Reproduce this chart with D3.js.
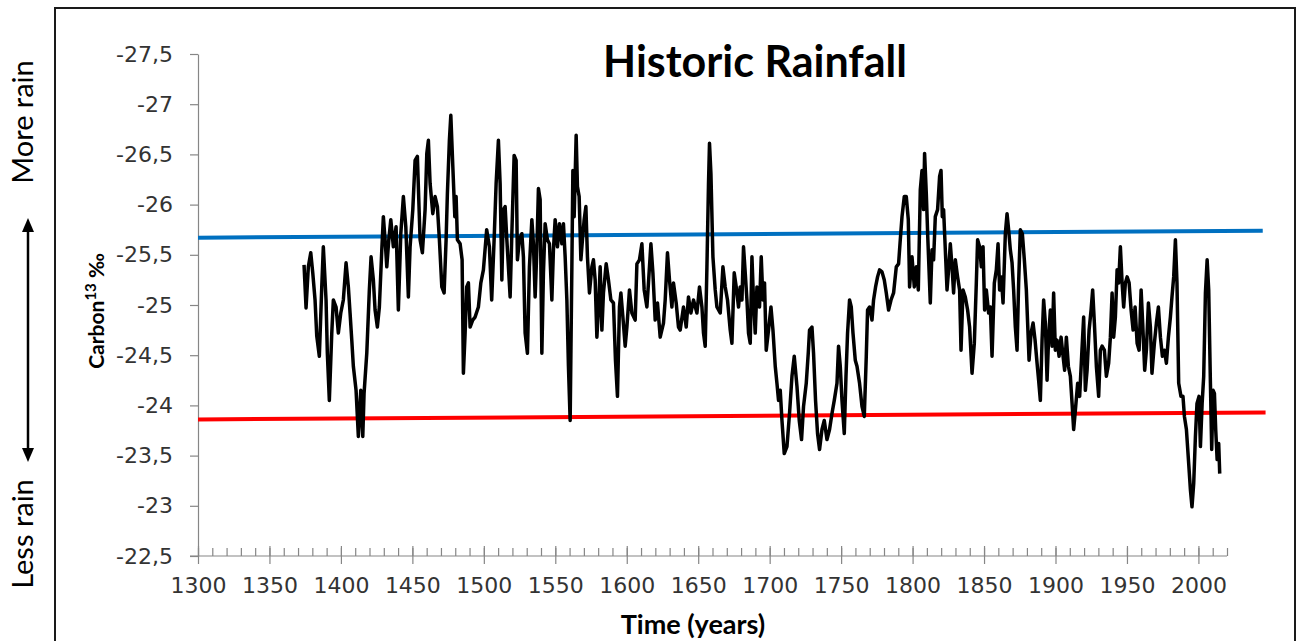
<!DOCTYPE html>
<html><head><meta charset="utf-8">
<script src="https://cdn.jsdelivr.net/npm/d3@7"></script>
<style>body{margin:0;background:#fff;} svg{display:block;}</style>
</head><body><svg id="chart" width="1298" height="641"></svg>
<script>
const chartTitle = "Historic Rainfall";
const xTitle = "Time (years)";
const yTitleMain = "Carbon";
const yTitleSup = "13";
const yTitleUnit = " ‰";
const topNote = "More rain";
const bottomNote = "Less rain";

const xMajorTicks = [1300,1350,1400,1450,1500,1550,1600,1650,1700,1750,1800,1850,1900,1950,2000];
const xMinorTicks = [1300,1310,1320,1330,1340,1350,1360,1370,1380,1390,1400,1410,1420,1430,1440,1450,1460,1470,1480,1490,1500,1510,1520,1530,1540,1550,1560,1570,1580,1590,1600,1610,1620,1630,1640,1650,1660,1670,1680,1690,1700,1710,1720,1730,1740,1750,1760,1770,1780,1790,1800,1810,1820,1830,1840,1850,1860,1870,1880,1890,1900,1910,1920,1930,1940,1950,1960,1970,1980,1990,2000,2010,2020];
const yTicks = [-27.5,-27,-26.5,-26,-25.5,-25,-24.5,-24,-23.5,-23,-22.5];

const wetTrendYears = [1300, 2045];
const wetTrendValues = [-25.67, -25.74];
const dryTrendYears = [1300, 2047];
const dryTrendValues = [-23.86, -23.93];

const years = [
1374.2,1375.6,1377.2,1378.9,1380.3,1381.9,1383.1,1384.9,1386.6,1387.7,
1389.6,1390.5,1391.9,1393.6,1394.7,1396.6,1398.2,1399.9,1401.7,1403.6,
1405.2,1406.4,1407.6,1408.7,1410.6,1412.2,1413.9,1415.3,1416.2,1418.1,
1419.9,1421.1,1422.7,1423.9,1425.5,1426.9,1428.6,1429.7,1430.9,1432.1,
1433.5,1434.9,1436.7,1438.6,1440.2,1441.9,1443.7,1445.4,1447.2,1448.4,
1450.3,1451.9,1453.5,1455.4,1457.0,1458.9,1460.1,1461.2,1462.4,1464.3,
1465.9,1467.5,1468.9,1470.6,1472.2,1473.6,1474.5,1475.9,1476.9,1478.3,
1479.7,1480.6,1481.5,1483.4,1484.8,1485.7,1486.9,1488.0,1489.2,1490.4,
1492.2,1493.9,1496.2,1497.9,1499.7,1502.0,1503.9,1505.5,1507.2,1508.6,
1510.2,1511.4,
1512.6,1513.7,1514.9,1516.1,1517.2,1518.4,1519.6,1521.2,1522.6,1523.5,
1524.9,1526.6,1527.7,1528.9,1530.5,1531.9,1533.6,1534.7,1535.9,1537.1,
1538.2,1539.4,1540.6,1541.7,1542.9,1544.5,1545.9,1547.6,1548.7,1549.9,
1551.5,1552.9,1554.6,1555.7,1556.9,1558.1,1559.2,1560.4,1561.6,1562.3,
1563.2,1564.6,1565.5,1566.7,1567.9,1569.0,1570.2,1571.4,1572.5,1573.9,
1575.6,1576.7,1577.9,1579.1,1580.5,1581.4,1582.6,1583.7,1585.6,1587.2,
1588.9,1590.7,1592.1,1593.5,1594.9,1595.9,1597.3,1598.9,1600.1,1601.9,
1603.6,1605.9,1607.1,1608.9,1610.6,1612.2,1614.1,1615.2,1616.9,1618.3,
1619.9,1621.5,1623.4,1625.7,1626.9,1628.5,1629.9,1631.6,1632.7,1634.6,
1636.2,1637.4,1639.7,1641.6,1643.2,1644.9,1646.7,1649.1,1650.9,1652.6,
1653.7,1654.9,1656.1,1657.2,1657.9,1658.9,1660.3,1661.9,1663.1,1665.4,
1667.3,1668.9,1670.5,1672.4,1673.6,1675.2,1676.6,1678.2,1679.4,1680.6,
1681.7,1682.9,1684.1,1685.2,1686.4,1687.6,1688.7,1689.9,1691.1,1692.9,
1694.1,1695.3,1696.4,1697.6,1699.2,1700.9,1702.3,1703.9,1705.1,1706.2,
1707.4,1708.6,1710.2,1712.1,1713.9,1715.6,1717.2,1719.1,1720.7,1722.3,
1723.7,1725.6,1727.0,1727.9,1729.6,1730.7,1732.1,1733.5,1734.9,1736.6,
1738.2,1740.1,1741.9,1743.6,1745.2,1747.1,1748.2,1749.4,1750.6,1752.2,
1753.4,1754.5,1755.9,1757.1,1758.3,1759.9,1761.1,1762.9,1764.6,1766.2,
1767.6,1768.5,1769.9,1771.6,1772.7,1774.1,1775.5,1776.9,1778.6,1780.2,
1781.6,1783.2,1784.9,1786.7,1788.6,1790.2,1791.4,1792.6,1794.2,1795.6,
1797.0,1797.9,1799.6,1801.2,1802.6,1804.0,1805.4,1806.6,1807.7,1808.4,
1809.6,1810.7,1812.4,
1813.6,1814.7,1815.9,1817.5,1818.9,1819.9,1820.8,1821.7,1822.9,1824.1,
1825.2,1826.4,1827.6,1828.7,1829.9,1831.5,1832.9,1833.9,1835.3,1836.9,
1838.5,1839.9,1841.6,1843.2,1844.6,1845.5,1846.9,1848.1,1849.3,1850.4,
1851.6,1853.2,1854.4,1855.6,1857.2,1858.6,1859.8,1860.9,1862.1,1863.3,
1864.9,1866.1,1867.2,1868.4,1869.6,1870.7,1871.9,1873.1,1874.2,1875.4,
1876.8,1878.2,1879.6,1880.5,1881.5,1882.9,1884.3,1885.7,1887.1,1888.2,
1889.4,1890.6,1891.7,1892.9,1894.1,1895.2,1896.4,1897.6,1898.7,1899.9,
1901.1,1902.5,1903.9,1905.3,1906.4,1907.6,1909.0,1910.4,1911.6,1912.7,
1913.9,1915.5,1916.9,1918.5,1919.7,1920.9,1922.1,1923.5,1924.9,1926.0,
1927.2,1928.6,1930.2,1931.4,1932.6,1934.2,1935.6,1937.2,1938.4,1939.6,
1940.7,1941.9,1943.1,1944.2,1945.4,1946.6,1947.7,1948.9,1950.1,1951.5,
1952.9,1954.3,1955.7,1957.1,1958.5,1959.9,1961.0,1962.4,1963.6,1965.0,
1966.4,1967.5,1969.2,1970.6,1972.0,1973.4,1974.8,1976.2,1977.6,1979.0,
1980.4,1981.5,1982.7,1983.9,1985.0,1986.2,1987.8,1989.2,1990.2,1991.6,
1993.2,1994.4,1995.5,1996.7,1997.9,1999.0,2000.4,2001.4,2002.6,2003.7,
2004.9,2006.1,2007.2,2008.4,2009.3,2010.3,2011.2,2012.1,2013.1,2014.2,
2014.9
];
const carbon13 = [
-25.40,-24.97,-25.38,-25.52,-25.32,-25.05,-24.69,-24.49,-25.18,-25.58,
-25.05,-24.52,-24.05,-24.72,-25.05,-24.98,-24.72,-24.92,-25.05,-25.42,
-25.18,-24.92,-24.65,-24.39,-24.15,-23.69,-24.15,-23.69,-24.12,-24.52,
-25.15,-25.48,-25.25,-24.95,-24.78,-24.98,-25.55,-25.88,-25.65,-25.38,
-25.65,-25.85,-25.58,-25.78,-24.95,-25.71,-26.08,-25.78,-25.08,-25.58,
-25.95,-26.44,-26.48,-25.65,-25.52,-25.95,-26.51,-26.64,-26.21,-25.91,
-26.08,-25.98,-25.65,-25.18,-25.12,-25.65,-26.11,-26.64,-26.89,-26.38,
-25.88,-26.08,-25.65,-25.61,-25.45,-24.32,-24.72,-25.18,-25.22,-24.78,
-24.85,-24.88,-24.98,-25.22,-25.35,-25.75,-25.58,-25.05,-25.65,-26.21,
-26.64,-26.21,
-25.25,-25.95,-25.98,-25.65,-25.38,-25.08,-25.71,-26.49,-26.44,-25.45,
-25.65,-25.71,-25.48,-24.72,-24.52,-25.38,-25.85,-25.61,-25.08,-25.55,
-26.16,-26.05,-24.52,-25.32,-25.81,-25.65,-25.61,-25.05,-25.55,-25.85,
-25.58,-25.81,-25.61,-25.81,-25.48,-25.05,-24.39,-23.85,-25.38,-26.34,
-25.88,-26.69,-26.18,-26.08,-25.45,-25.65,-25.85,-25.98,-25.48,-25.12,
-25.38,-25.45,-25.25,-24.68,-25.05,-25.38,-24.75,-25.12,-25.41,-25.25,
-25.05,-25.02,-24.45,-24.09,-24.98,-25.12,-24.88,-24.59,-24.78,-25.15,
-24.92,-24.85,-25.41,-25.45,-25.61,-25.15,-24.98,-25.22,-25.61,-25.32,
-24.85,-25.02,-24.68,-24.82,-25.05,-25.52,-25.25,-24.98,-25.22,-25.02,
-24.78,-24.75,-24.98,-24.78,-25.08,-24.92,-25.05,-24.92,-25.18,-24.98,
-24.72,-24.59,-25.38,-26.21,-26.61,-26.31,-25.48,-25.15,-24.98,-24.92,
-25.38,-25.18,-25.05,-24.75,-24.62,-25.32,-25.18,-24.98,-25.18,-25.05,
-25.58,-25.32,-25.05,-24.72,-24.62,-25.48,-25.05,-24.72,-25.18,-24.98,
-25.48,-25.05,-25.22,-24.55,-24.75,-24.98,-24.75,-24.39,-24.22,-24.05,
-24.15,-23.85,-23.52,-23.59,-23.92,-24.29,-24.49,-24.19,-23.85,-23.66,
-23.99,-24.22,-24.52,-24.75,-24.78,-24.52,-24.05,-23.72,-23.56,-23.76,
-23.85,-23.66,-23.76,-23.92,-24.05,-24.22,-24.59,-24.39,-24.05,-23.72,
-24.29,-24.72,-25.05,-24.98,-24.72,-24.45,-24.39,-24.22,-23.99,-23.89,
-24.49,-24.95,-24.98,-24.85,-25.05,-25.18,-25.28,-25.35,-25.33,-25.25,
-25.12,-24.95,-25.05,-25.12,-25.38,-25.41,-25.65,-25.88,-26.08,-26.08,
-25.85,-25.18,-25.48,-25.18,-25.38,-25.15,-26.15,-26.34,-25.95,-26.51,
-26.11,-25.65,-25.02,
-25.55,-25.45,-25.88,-25.95,-26.28,-26.34,-25.88,-25.95,-25.55,-25.15,
-25.35,-25.61,-25.38,-25.12,-25.45,-25.28,-25.15,-24.55,-25.15,-25.08,
-24.95,-24.78,-24.32,-24.62,-25.22,-25.65,-25.58,-25.38,-25.58,-24.95,
-25.15,-24.92,-24.98,-24.49,-25.22,-25.35,-25.61,-25.15,-25.28,-25.02,
-25.71,-25.91,-25.75,-25.55,-25.42,-25.15,-24.78,-24.55,-25.22,-25.75,
-25.71,-25.45,-25.15,-24.82,-24.45,-24.72,-24.82,-24.65,-24.42,-24.25,
-24.05,-24.65,-25.05,-24.82,-24.25,-24.68,-24.95,-24.59,-25.12,-24.55,
-24.65,-24.49,-24.68,-24.49,-24.35,-24.68,-24.39,-24.29,-24.02,-23.76,
-23.95,-24.22,-24.09,-24.55,-24.88,-24.15,-24.35,-24.75,-24.95,-25.15,
-24.82,-24.39,-24.09,-24.55,-24.59,-24.55,-24.29,-24.42,-24.68,-25.12,
-24.68,-24.88,-25.35,-25.22,-25.58,-25.22,-24.98,-25.22,-25.28,-25.22,
-24.95,-24.75,-24.98,-24.62,-24.55,-25.15,-24.82,-24.35,-24.55,-25.02,
-24.78,-24.32,-24.62,-24.82,-24.98,-24.68,-24.49,-24.55,-24.42,-24.68,
-24.88,-25.08,-25.28,-25.65,-25.22,-24.22,-24.09,-24.09,-23.89,-23.76,
-23.42,-23.16,-22.99,-23.22,-23.69,-24.02,-24.09,-23.59,-24.02,-24.29,
-25.12,-25.45,-25.15,-24.22,-23.56,-24.15,-24.12,-23.76,-23.46,-23.62,
-23.32
];

const svg = d3.select("#chart");
const axisColor = "#868686";
const labelColor = "#333333";

const x = d3.scaleLinear().domain([1300, 2020]).range([198, 1227]);
const y = d3.scaleLinear().domain([-27.5, -22.5]).range([54, 556]);

const locale = d3.formatLocale({decimal: ",", thousands: ".", grouping: [3], currency: ["", ""], minus: "-"});
const yFmt = locale.format(".1~f");

// outer frame
svg.append("rect").attr("x", 55).attr("y", 8).attr("width", 1240).attr("height", 700)
  .attr("fill", "none").attr("stroke", "#1a1a1a").attr("stroke-width", 2);

// y axis
const yAxis = svg.append("g").attr("transform", `translate(${x(1300)},0)`)
  .call(d3.axisLeft(y).tickValues(yTicks).tickFormat(yFmt).tickSizeInner(8).tickSizeOuter(0).tickPadding(17));
yAxis.select(".domain").attr("stroke", axisColor).attr("stroke-width", 1.2);
yAxis.selectAll(".tick line").attr("stroke", axisColor).attr("stroke-width", 1.2);
yAxis.selectAll(".tick text").attr("fill", labelColor)
  .style("font-family", "'DejaVu Sans', Verdana, sans-serif").style("font-size", "22px");

// x axis minor ticks (inside)
const xMinor = svg.append("g").attr("transform", `translate(0,${y(-22.5)})`)
  .call(d3.axisTop(x).tickValues(xMinorTicks).tickFormat("").tickSizeInner(8).tickSizeOuter(0));
xMinor.select(".domain").remove();
xMinor.selectAll(".tick line").attr("stroke", axisColor).attr("stroke-width", 1.2);

// x axis major ticks (crossing)
const xAxis = svg.append("g").attr("transform", `translate(0,${y(-22.5)})`)
  .call(d3.axisBottom(x).tickValues(xMajorTicks).tickFormat(d3.format("d")).tickSizeInner(8).tickSizeOuter(0).tickPadding(13));
xAxis.select(".domain").attr("stroke", axisColor).attr("stroke-width", 1.2)
  .attr("d", `M${x(1300) - 8},0H${x(2020)}`);
xAxis.selectAll(".tick line").attr("stroke", axisColor).attr("stroke-width", 1.2).attr("y1", -10).attr("y2", 8);
xAxis.selectAll(".tick text").attr("fill", labelColor)
  .style("font-family", "'DejaVu Sans', Verdana, sans-serif").style("font-size", "22px");

// trend lines
const trend = d3.line().x(d => x(d[0])).y(d => y(d[1]));
svg.append("path").datum(d3.zip(wetTrendYears, wetTrendValues)).attr("d", trend)
  .attr("fill", "none").attr("stroke", "#0070c0").attr("stroke-width", 4);
svg.append("path").datum(d3.zip(dryTrendYears, dryTrendValues)).attr("d", trend)
  .attr("fill", "none").attr("stroke", "#ff0000").attr("stroke-width", 4);

// data line
const line = d3.line().x(d => x(d[0])).y(d => y(d[1]));
svg.append("path").datum(d3.zip(years, carbon13)).attr("d", line)
  .attr("fill", "none").attr("stroke", "#000").attr("stroke-width", 3.5).attr("stroke-linejoin", "round");

// title
svg.append("text").attr("x", 755).attr("y", 77).attr("text-anchor", "middle")
  .style("font-family", "Lato, 'Open Sans', sans-serif").style("font-weight", "bold").style("font-size", "43px")
  .attr("fill", "#000").text(chartTitle);

// x title
svg.append("text").attr("x", 693).attr("y", 634).attr("text-anchor", "middle")
  .style("font-family", "Lato, 'Open Sans', sans-serif").style("font-weight", "bold").style("font-size", "27px")
  .attr("fill", "#000").text(xTitle);

// y title
const yt = svg.append("text").attr("transform", "translate(104,311) rotate(-90)").attr("text-anchor", "middle")
  .style("font-family", "Lato, 'Open Sans', sans-serif").style("font-weight", "bold").style("font-size", "21px")
  .attr("fill", "#000");
yt.append("tspan").text(yTitleMain);
yt.append("tspan").attr("dy", -8).style("font-size", "15px").text(yTitleSup);
yt.append("tspan").attr("dy", 8).text(yTitleUnit);

// side notes
svg.append("text").attr("transform", "translate(33,122) rotate(-90)").attr("text-anchor", "middle")
  .style("font-family", "Lato, 'Open Sans', sans-serif").style("font-size", "29px").attr("fill", "#000").text(topNote);
svg.append("text").attr("transform", "translate(33,534) rotate(-90)").attr("text-anchor", "middle")
  .style("font-family", "Lato, 'Open Sans', sans-serif").style("font-size", "29px").attr("fill", "#000").text(bottomNote);

// double arrow
svg.append("line").attr("x1", 28).attr("x2", 28).attr("y1", 228).attr("y2", 452)
  .attr("stroke", "#000").attr("stroke-width", 2.5);
svg.append("path").attr("d", "M28,218L22,232L34,232Z").attr("fill", "#000");
svg.append("path").attr("d", "M28,462L22,448L34,448Z").attr("fill", "#000");
</script></body></html>
